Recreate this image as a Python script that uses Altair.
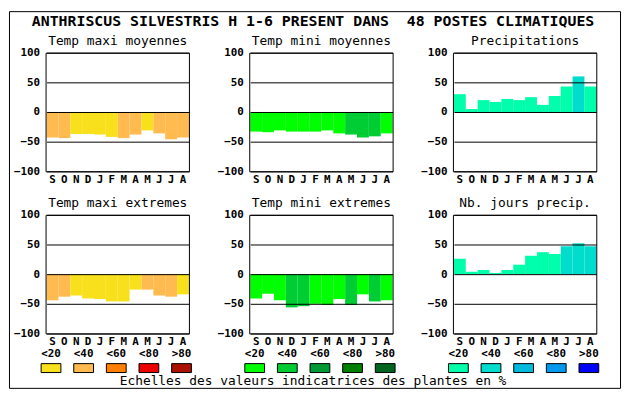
import json
import pandas as pd
import altair as alt

FONT = "DejaVu Sans Mono"

main_title = "ANTHRISCUS SILVESTRIS H 1-6 PRESENT DANS \u00a048 POSTES CLIMATIQUES"
footer_text = "Echelles des valeurs indicatrices des plantes en %"
months = ["S", "O", "N", "D", "J", "F", "M", "A", "M", "J", "J", "A"]
classes = ["<20", "<40", "<60", "<80", ">80"]
y_ticks = [-100, -50, 0, 50, 100]

palette_tmax = ["#f8e11c", "#ffbb50", "#ff8000", "#ee0000", "#aa1100"]
palette_tmin = ["#00ff00", "#00cc33", "#009933", "#007f00", "#00661f"]
palette_prec = ["#00ffaa", "#00ddcc", "#00bbdd", "#0099ee", "#0000ff"]

titles = ["Temp maxi moyennes", "Temp mini moyennes", "Precipitations",
          "Temp maxi extremes", "Temp mini extremes", "Nb. jours precip."]

tmax_moy = [-43, -44, -37, -37, -38, -42, -44, -38, -31, -36, -46, -43]
tmax_moy_cls = [1, 1, 0, 0, 0, 0, 1, 1, 0, 1, 1, 1]
tmin_moy = [-33, -34, -31, -33, -33, -33, -31, -36, -38, -43, -41, -36]
tmin_moy_cls = [0, 0, 0, 0, 0, 0, 0, 0, 1, 1, 1, 0]
precip = [30, 5, 20, 17, 22, 20, 25, 12, 27, 43, 60, 43]
precip_cls = [0, 0, 0, 0, 0, 0, 0, 0, 0, 0, 1, 0]
tmax_ext = [-44, -38, -36, -41, -42, -46, -46, -26, -26, -36, -38, -34]
tmax_ext_cls = [1, 1, 0, 0, 0, 0, 0, 0, 1, 1, 1, 0]
tmin_ext = [-41, -33, -44, -56, -54, -50, -52, -42, -52, -34, -46, -44]
tmin_ext_cls = [0, 0, 0, 1, 1, 0, 0, 0, 1, 0, 1, 0]
jours = [26, 4, 7, 2, 7, 16, 31, 37, 34, 47, 52, 47]
jours_cls = [0, 0, 0, 0, 0, 0, 0, 0, 0, 1, 1, 1]

groups = ["tmax", "tmin", "prec"]
color_domain = [f"{g}:{c}" for g in groups for c in classes]
color_range = palette_tmax + palette_tmin + palette_prec
color_scale = alt.Scale(domain=color_domain, range=color_range)

label_expr = json.dumps(months) + "[datum.value]"

one = pd.DataFrame({"o": [1]})


def panel(title, values, cls, group, extra=()):
    df = pd.DataFrame({"i": list(range(12)), "v": values,
                       "k": [f"{group}:{classes[c]}" for c in cls]})
    bars = alt.Chart(df).mark_bar().encode(
        x=alt.X("i:O", title=None,
                scale=alt.Scale(paddingInner=0, paddingOuter=0),
                axis=alt.Axis(labelExpr=label_expr, labelAngle=0, ticks=False,
                              domain=False, labelFont=FONT, labelFontSize=11,
                              labelFontWeight="bold", labelColor="black",
                              labelPadding=2)),
        y=alt.Y("v:Q", title=None, scale=alt.Scale(domain=[-100, 100]),
                axis=alt.Axis(values=y_ticks, grid=True, gridColor="black",
                              gridOpacity=1, gridWidth=1, ticks=False,
                              domain=False, zindex=1, labelFont=FONT,
                              labelFontSize=11, labelFontWeight="bold",
                              labelColor="black", labelPadding=7)),
        color=alt.Color("k:N", scale=color_scale, legend=None),
    )
    frame = alt.Chart(one).mark_rect(fill="white", fillOpacity=0, stroke="black",
                                     strokeWidth=1).encode(
        x=alt.value(-0.5), x2=alt.value(144.5), y=alt.value(0.5), y2=alt.value(120.5))
    ttl = alt.Chart(pd.DataFrame({"t": [title]})).mark_text(
        font=FONT, fontSize=13, align="center", baseline="alphabetic",
        color="black").encode(x=alt.value(72), y=alt.value(-8), text="t:N")
    return alt.layer(bars, frame, ttl, *extra).properties(width=144, height=120)


def legend(group, extra=()):
    df = pd.DataFrame({"c": classes, "k": [f"{group}:{c}" for c in classes]})
    xenc = alt.X("c:N", sort=classes, axis=None,
                 scale=alt.Scale(range=[-5.5, 146.5], paddingInner=0.394,
                                 paddingOuter=0))
    sw = alt.Chart(df).mark_rect(stroke="black", strokeWidth=1).encode(
        x=xenc, y=alt.value(-13.5), y2=alt.value(-4.5),
        color=alt.Color("k:N", scale=color_scale, legend=None))
    lb = alt.Chart(df).mark_text(font=FONT, fontSize=11, fontWeight="bold",
                                 baseline="alphabetic", color="black").encode(
        x=xenc, y=alt.value(-20), text="c:N")
    return alt.layer(sw, lb, *extra).properties(width=144, height=10)


border = alt.Chart(one).mark_rect(fill="white", fillOpacity=0, stroke="black",
                                  strokeWidth=1).encode(
    x=alt.value(-37.5), x2=alt.value(580.5), y=alt.value(-41.5), y2=alt.value(339.5))
big_title = alt.Chart(pd.DataFrame({"t": [main_title]})).mark_text(
    font=FONT, fontSize=15, fontWeight="bold", align="center",
    baseline="alphabetic", color="black").encode(
    x=alt.value(269.5), y=alt.value(-27), text="t:N")
footer = alt.Chart(pd.DataFrame({"t": [footer_text]})).mark_text(
    font=FONT, fontSize=13, align="center", baseline="alphabetic",
    color="black").encode(x=alt.value(63.5), y=alt.value(8.5), text="t:N")

p1 = panel(titles[0], tmax_moy, tmax_moy_cls, "tmax", extra=(border, big_title))
p2 = panel(titles[1], tmin_moy, tmin_moy_cls, "tmin")
p3 = panel(titles[2], precip, precip_cls, "prec")
p4 = panel(titles[3], tmax_ext, tmax_ext_cls, "tmax")
p5 = panel(titles[4], tmin_ext, tmin_ext_cls, "tmin")
p6 = panel(titles[5], jours, jours_cls, "prec")

l1 = legend("tmax")
l2 = legend("tmin", extra=(footer,))
l3 = legend("prec")

chart = alt.concat(
    p1, p2, p3, p4, p5, p6, l1, l2, l3,
    columns=3, bounds="flush", spacing={"row": 44, "column": 62},
).properties(
    padding=0, background="white"
).configure_view(stroke="transparent")

chart.save("out.html", embed_options={"renderer": "svg", "actions": False})
